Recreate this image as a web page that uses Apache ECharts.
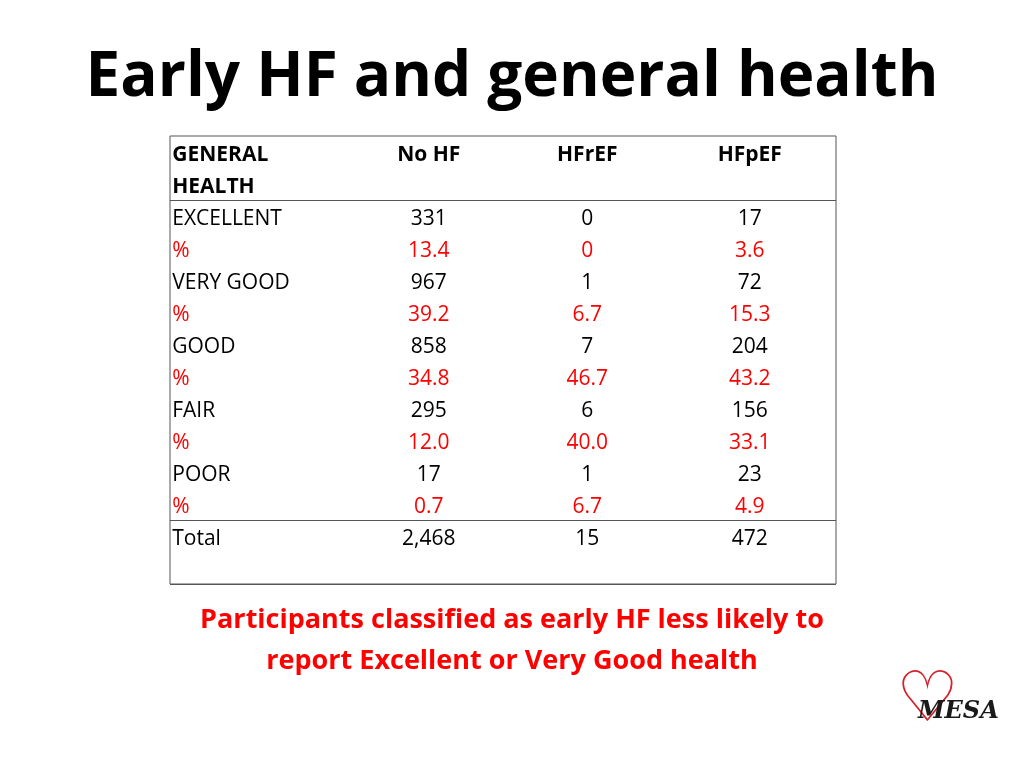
<!DOCTYPE html>
<html><head><meta charset="utf-8">
<script src="https://cdn.jsdelivr.net/npm/echarts@6/dist/echarts.min.js"></script>
<style>html,body{margin:0;padding:0;background:#fff}#c{width:1024px;height:768px}</style>
</head><body><div id="c"></div>
<script>
const columns = ['GENERAL HEALTH', 'No HF', 'HFrEF', 'HFpEF'];
const rowLabels = ['EXCELLENT','%','VERY GOOD','%','GOOD','%','FAIR','%','POOR','%','Total'];
const noHF  = ['331','13.4','967','39.2','858','34.8','295','12.0','17','0.7','2,468'];
const hfrEF = ['0','0','1','6.7','7','46.7','6','40.0','1','6.7','15'];
const hfpEF = ['17','3.6','72','15.3','204','43.2','156','33.1','23','4.9','472'];
const isPct = rowLabels.map(r => r === '%');

const ySlots = ['h1','h2'].concat(rowLabels.map((_, i) => 'r' + i)).concat(['pad']);
const RED = '#ff0000';
const FONT = '"Open Sans", sans-serif';
const colShift = [0, 9, 1, -3];

const cells = [];
cells.push({value:[0,'h1'], label:{formatter:'GENERAL', align:'left', offset:[-81,3], fontWeight:'bold'}});
cells.push({value:[0,'h2'], label:{formatter:'HEALTH', align:'left', offset:[-81,3], fontWeight:'bold'}});
[1,2,3].forEach(c => cells.push({value:[c,'h1'], label:{formatter:columns[c], fontWeight:'bold', offset:[colShift[c],3]}}));
rowLabels.forEach((r, i) => {
  const color = isPct[i] ? RED : '#000';
  cells.push({value:[0,'r'+i], label:{formatter:r, align:'left', offset:[-81,3], color}});
  [noHF, hfrEF, hfpEF].forEach((arr, c) => cells.push({value:[c+1,'r'+i], label:{formatter:arr[i], color, offset:[colShift[c+1],3]}}));
});

const chart = echarts.init(document.getElementById('c'));
chart.setOption({
  animation:false,
  title:{text:'Early HF and general health', left:'center', top:42,
    textStyle:{fontFamily:FONT, fontWeight:'bold', fontSize:62, color:'#000'}},
  grid:{left:170, width:666, top:136, height:448, show:true, borderColor:'#555', borderWidth:1},
  xAxis:{type:'category', data:[0,1,2,3], axisLine:{show:false}, axisTick:{show:false}, axisLabel:{show:false}},
  yAxis:{type:'category', inverse:true, data:ySlots, axisLine:{show:false}, axisTick:{show:false}, axisLabel:{show:false},
    splitLine:{show:true, interval:(i)=> i===2 || i===12, lineStyle:{color:'#555', width:1}}},
  series:[{type:'scatter', symbolSize:0, data:cells, itemStyle:{opacity:1},
    label:{show:true, position:'inside', fontFamily:FONT, fontSize:21, color:'#000', opacity:1}}],
  graphic:[
    {type:'text', x:512, y:600, style:{text:'Participants classified as early HF less likely to\nreport Excellent or Very Good health',
      font:'bold 27px "Open Sans", sans-serif', fill:RED, textAlign:'center', lineHeight:41}},
    {type:'text', left:896, top:668, style:{text:'♡', font:'70px "DejaVu Sans"', fill:'#d6202a'}},
    {type:'text', left:918, top:700, style:{text:'MESA', font:'bold italic 24px "DejaVu Serif"', fill:'#1a1a1a'}}
  ]
});
</script></body></html>
